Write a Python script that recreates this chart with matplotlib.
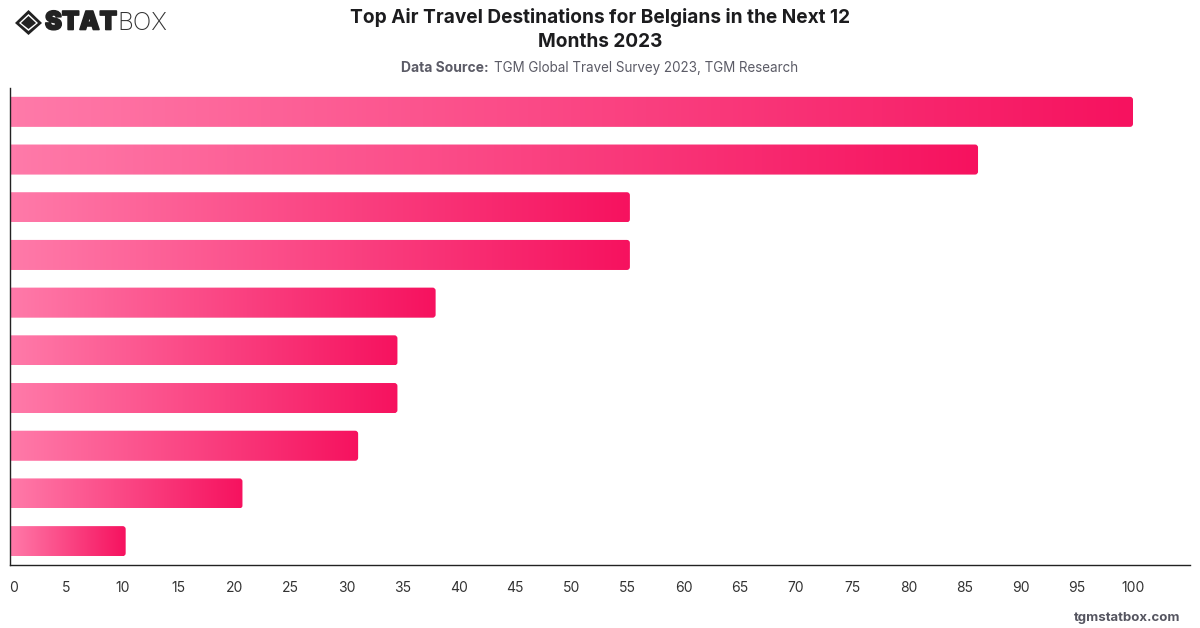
import numpy
import matplotlib
matplotlib.use('Agg')
import matplotlib.pyplot
import matplotlib.patheffects
from matplotlib.colors import LinearSegmentedColormap
from matplotlib.patches import FancyBboxPatch, Polygon

matplotlib.pyplot.rcParams['font.family'] = ['Inter', 'DejaVu Sans']

# share of respondents, scaled so the top destination is 100
values = [100, 86.2, 55.2, 55.2, 37.9, 34.5, 34.5, 31.0, 20.7, 10.3]
xticks = list(range(0, 105, 5))

title = 'Top Air Travel Destinations for Belgians in the Next 12\nMonths 2023'

W, H = 1200, 628
x0 = 10.0
unit = 11.23
fig = matplotlib.pyplot.figure(figsize=(W / 100, H / 100), dpi=100)
ax = fig.add_axes([x0 / W, 1 - 565 / H, (1190 - x0) / W, (565 - 88) / H])

cmap = LinearSegmentedColormap.from_list('bar', ['#ff7aa9', '#f6125f'])
gradient = numpy.linspace(0, 1, 256).reshape(1, -1)

xmax = (1190 - x0) / unit
bar_h = 0.63
px_x = 1 / unit
px_y = 10 / (565 - 88)

for i, v in enumerate(values):
    im = ax.imshow(gradient, cmap=cmap, aspect='auto', interpolation='bilinear',
                   extent=[0, v, i + bar_h / 2, i - bar_h / 2], zorder=2)
    # rounded right end, left side runs past the axis and gets cut off there
    r = 3 * px_x
    clip = FancyBboxPatch((-2, i - bar_h / 2), v + 2, bar_h,
                          boxstyle=f'round,pad=0,rounding_size={r}',
                          mutation_aspect=px_y / px_x,
                          transform=ax.transData, fc='none', ec='none')
    ax.add_patch(clip)
    im.set_clip_path(clip)

ax.set_xlim(0, xmax)
ax.set_ylim(9.5, -0.5)
ax.set_yticks([])
ax.set_xticks(xticks)
ax.set_xticklabels([])
ax.tick_params(axis='x', length=0)
for s in ['top', 'right']:
    ax.spines[s].set_visible(False)
for s in ['left', 'bottom']:
    ax.spines[s].set_color('#222222')
    ax.spines[s].set_linewidth(1.0)

# tick labels placed by hand so the first one stays inside the figure
for t in xticks:
    lx = 14 / W if t == 0 else (x0 + t * unit) / W
    fig.text(lx, 1 - 587.5 / H, str(t), ha='center', va='center', fontsize=10, color='#333333')

fig.text(600 / W, 1 - 29.5 / H, title, ha='center', va='center', fontsize=13.72,
         fontweight='bold', color='#1c1c1e', linespacing=1.37)
fig.text(401 / W, 1 - 68 / H, 'Data Source:', ha='left', va='center', fontsize=10,
         fontweight='bold', color='#5b5b66')
fig.text(494 / W, 1 - 68 / H, 'TGM Global Travel Survey 2023, TGM Research', ha='left',
         va='center', fontsize=9.67, color='#5b5b66')
fig.text(1180 / W, 1 - 617.5 / H, 'tgmstatbox.com', ha='right', va='center', fontsize=9.5,
         fontweight='bold', color='#555560')

# logo: diamond mark and wordmark
def poly(points, color):
    fig.add_artist(Polygon([(x / W, 1 - y / H) for x, y in points], closed=True,
                           fc=color, ec='none', transform=fig.transFigure))

poly([(28.5, 10), (42, 23), (28.5, 35), (15, 23)], '#222222')
poly([(28.5, 14), (38, 23), (28.5, 31), (19, 23)], 'white')
poly([(28.5, 16), (36, 23), (28.5, 29), (21, 23)], '#222222')
stat = fig.text(45 / W, 1 - 23 / H, 'STAT', ha='left', va='center', fontsize=18.3,
                fontweight='black', color='#222222')
stat.set_path_effects([matplotlib.patheffects.withStroke(linewidth=1.2, foreground='#222222')])
fig.text(117 / W, 1 - 23 / H, 'BOX', ha='left', va='center', fontsize=17.6,
         fontweight='light', color='#333333')

matplotlib.pyplot.savefig('out.png', dpi=100)
